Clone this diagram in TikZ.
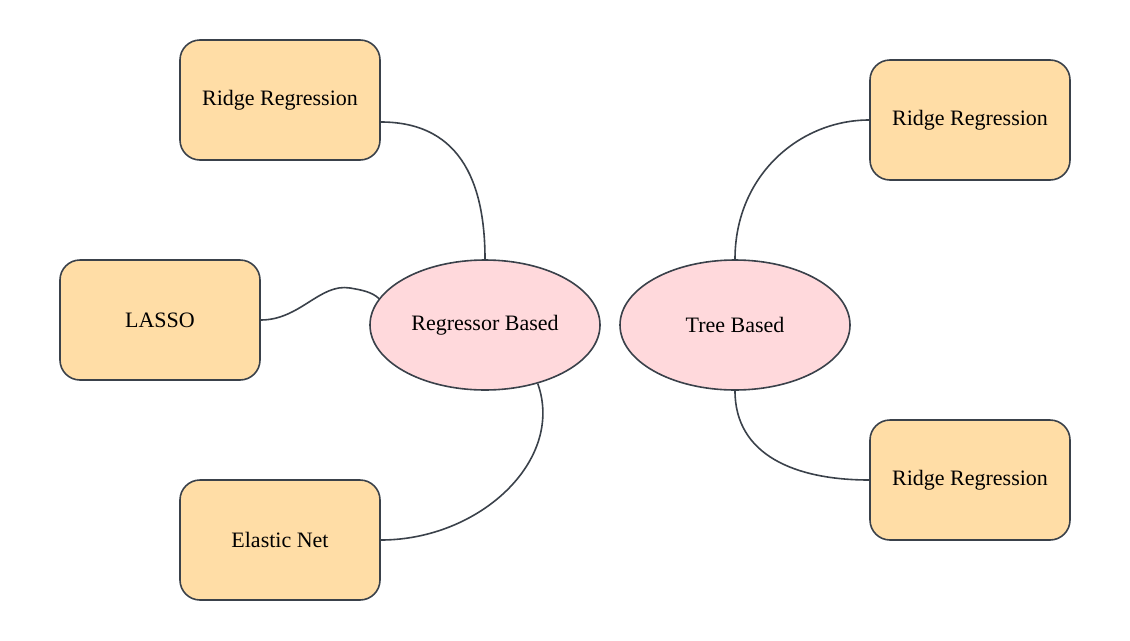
\documentclass[tikz,border=0pt]{standalone}
\usepackage{fontspec}
\setmainfont{Liberation Serif}
\usetikzlibrary{shapes.geometric}
\definecolor{boxfill}{HTML}{FFDDA6}
\definecolor{ovalfill}{HTML}{FFD9DC}
\definecolor{edge}{HTML}{3A414A}
\tikzset{
  leafbox/.style={draw=edge, fill=boxfill, line width=1.6pt, rounded corners=20pt,
    minimum width=200pt, minimum height=120pt, inner sep=0pt, font=\fontsize{22}{26}\selectfont},
  groupoval/.style={draw=edge, fill=ovalfill, line width=1.6pt, ellipse,
    minimum width=230pt, minimum height=130pt, inner sep=0pt, font=\fontsize{22}{26}\selectfont},
  link/.style={draw=edge, line width=1.6pt}
}
\begin{document}
\begin{tikzpicture}[x=1pt,y=-1pt]
\useasboundingbox (0,0) rectangle (1130,640);

\node [leafbox] (ridgeA) at (280,100) {Ridge Regression};
\node [leafbox] (lasso) at (160,320) {LASSO};
\node [leafbox] (elastic) at (280,540) {Elastic Net};
\node [groupoval] (regressor) at (485,325) {Regressor Based};

\node [groupoval] (tree) at (735,325) {Tree Based};
\node [leafbox] (ridgeB) at (970,120) {Ridge Regression};
\node [leafbox] (ridgeC) at (970,480) {Ridge Regression};

\draw [link] ([yshift=-22pt]ridgeA.east) .. controls (465,122) and (485,190) .. (regressor.north);
\draw [link] (lasso.east) .. controls (300,320) and (320,283) .. (350,288)
  .. controls (362,290) and (372,292) .. (regressor.166);
\draw [link] (elastic.east) .. controls (480,540) and (565,460) .. (regressor.-48);

\draw [link] (tree.north) .. controls (735,175) and (800,120) .. (ridgeB.west);
\draw [link] (tree.south) .. controls (735,455) and (795,480) .. (ridgeC.west);
\end{tikzpicture}
\end{document}
